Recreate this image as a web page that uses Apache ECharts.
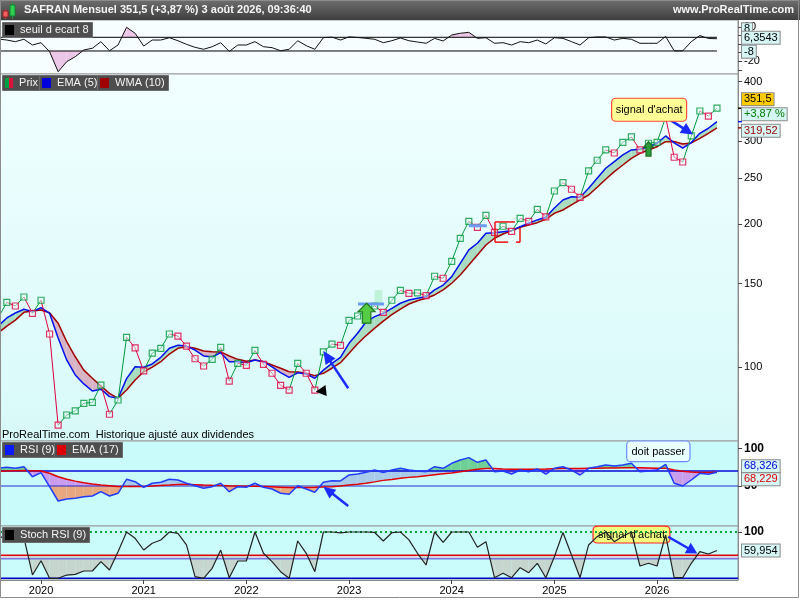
<!DOCTYPE html>
<html>
<head>
<meta charset="utf-8">
<script src="https://cdn.jsdelivr.net/npm/echarts@6.0.0/dist/echarts.min.js"></script>
<style>
html,body{margin:0;padding:0;background:#ffffff;}
#chart{width:800px;height:600px;}
</style>
</head>
<body>
<div id="chart"></div>
<script>
const FONT = '"Liberation Sans", Arial, Helvetica, sans-serif';

// ---- data (monthly, first value = Aug 2019, index -1) ----
const startIndex = -1;
const yearTicks = [4, 16, 28, 40, 52, 64, 76];
const yearLabels = ['2020', '2021', '2022', '2023', '2024', '2025', '2026'];
const priceTicks = [100, 150, 200, 250, 300, 400];
const ecartTicks = [-30, -20, -10, 0, 10, 20];
const ecartLabels = [-20, 20];
const ecartLevels = [8, -8];
const rsiLabels = [50, 100];
const rsiLevels = [70, 50];
const stochLabels = [100];
const stochLevels = [100, 50, 42, 0];

const price = [127.0,
  136.9,134.5,140.5,129.8,138.3,117.4,75.4,79.2,80.8,83.8,
  84.2,91.6,79.5,85.2,115.5,109.7,98.1,107.0,109.5,117.4,
  116.2,110.7,104.1,100.5,103.8,110.0,93.4,101.8,100.8,108.4,
  101.3,97.0,91.5,89.4,101.8,97.0,89.4,107.6,111.8,111.1,
  125.4,128.1,132.0,134.5,130.4,138.3,145.1,143.0,143.4,141.4,
  155.4,153.9,167.1,186.8,202.9,197.1,208.9,192.4,198.1,193.3,
  205.9,202.9,215.1,207.3,235.1,244.8,237.1,228.0,259.2,273.0,
  287.0,282.8,297.9,305.7,287.0,296.5,297.9,336.4,277.0,270.7,
  307.2,346.8,338.4,351.5];

const ema5 = [122.0,
  126.9,130.0,132.4,130.8,133.4,129.8,115.1,103.5,96.2,92.1,
  89.0,89.8,86.6,85.9,94.5,100.1,99.9,101.5,104.8,109.5,
  111.1,110.7,108.6,105.5,105.0,107.2,102.6,102.6,102.1,103.5,
  102.6,100.1,97.3,95.1,97.2,96.7,94.7,98.5,101.8,104.8,
  112.2,117.8,124.6,127.7,129.8,133.0,136.3,138.5,139.6,140.7,
  145.4,148.9,155.1,165.5,176.6,182.4,191.5,192.0,193.0,193.9,
  197.7,201.0,204.3,206.9,216.5,225.1,228.7,228.0,238.2,250.1,
  262.6,271.1,280.1,287.0,288.0,291.6,296.5,307.2,297.0,289.4,
  297.5,311.2,318.9,329.3];

const wma10 = [118.0,
  122.0,125.6,130.4,131.2,131.9,130.2,123.7,113.1,105.1,98.5,
  94.7,91.2,88.0,85.9,89.4,93.9,97.7,99.9,102.6,106.5,
  109.5,110.4,109.5,108.1,107.7,107.6,105.5,103.8,102.8,103.5,
  102.6,101.0,99.4,97.7,97.6,97.0,95.9,97.0,99.4,102.1,
  106.9,112.0,116.5,120.8,125.0,129.0,132.5,135.8,138.0,139.6,
  141.9,145.4,150.2,156.4,164.1,172.3,180.9,186.9,190.8,193.9,
  197.2,199.4,201.6,205.0,211.0,214.4,219.7,225.1,230.6,239.4,
  248.9,258.3,266.8,275.6,282.4,287.0,291.6,298.8,299.0,295.5,
  297.0,303.7,311.2,319.52];

const ecart = [6.0,
  4.8,2.9,5.7,-1.0,1.7,-8.8,-32.2,-20.5,-14.7,-6.8,
  -4.8,2.9,-7.7,-1.0,19.7,12.7,-2.2,4.8,4.8,7.5,
  4.0,-0.2,-3.7,-6.0,-3.0,1.7,-8.5,-1.0,-1.0,2.9,
  -3.0,-4.1,-7.7,-6.0,4.0,-1.8,-6.0,7.6,8.2,4.8,
  8.5,7.8,6.8,5.7,1.7,4.0,7.2,4.0,2.5,1.0,
  6.8,3.7,10.7,12.7,13.8,6.8,7.5,1.0,1.7,-1.0,
  2.9,1.7,4.8,0.2,7.5,6.8,2.9,-1.0,7.5,8.4,
  8.4,4.8,6.8,5.7,1.0,1.0,1.0,9.0,-7.8,-7.8,
  2.9,10.0,6.6,6.3543];

const rsi9 = [73.8,
  74.9,73.6,75.7,62.4,67.8,49.1,30.0,32.7,33.6,35.7,
  36.7,42.4,36.7,40.3,58.9,55.7,48.3,53.6,54.9,58.9,
  58.0,53.6,50.4,46.9,49.1,53.6,42.4,49.1,48.3,53.6,
  48.3,46.0,40.3,38.9,50.4,46.0,41.6,54.9,57.1,56.8,
  64.7,66.0,68.2,71.3,67.8,71.3,73.6,71.3,70.0,69.1,
  75.7,73.6,80.3,84.7,87.8,81.6,84.7,69.1,70.0,66.0,
  71.3,69.1,72.7,66.0,73.6,75.7,71.3,64.7,73.6,75.7,
  78.0,76.7,78.0,80.3,69.1,70.0,71.3,78.9,53.6,50.0,
  58.0,66.9,65.6,68.326];

const rsiEma17 = [69.5,
  70.0,70.5,70.8,70.5,70.0,67.0,62.4,58.9,56.5,54.4,
  52.8,51.3,50.3,49.3,49.5,49.5,49.3,50.0,50.8,51.3,
  52.0,52.2,51.8,51.3,51.0,50.8,50.2,50.0,49.8,49.6,
  49.3,49.0,48.5,48.0,47.9,48.1,48.3,48.8,49.1,50.0,
  51.3,52.4,53.6,55.5,57.5,58.8,60.2,61.5,62.4,63.8,
  65.0,66.2,67.2,69.0,70.8,72.3,73.4,73.2,72.6,72.2,
  72.2,72.2,72.4,72.6,73.0,73.4,73.5,73.4,73.6,73.8,
  74.0,74.1,74.3,74.4,74.2,74.0,73.8,73.7,71.5,69.8,
  68.8,68.1,67.9,68.229];

const stochRsi = [85,
  95,100,88,7.2,38,0,0,7,8.6,15.8,
  15.8,35.9,17.9,57.5,100,86.4,61.1,75.6,82.7,100,
  97,72,3.5,0,21.6,61,1.3,37.4,37.4,100,
  54,35.9,14.3,0,80.6,54,14.3,100,100,98,
  100,100,100,99,80.6,98.5,100,83,54,28.7,
  100,77.8,100,100,100,67,79,1.3,10.8,1.3,
  22.9,12.1,32.4,1.3,46.7,99,50.3,1.3,72,90,
  100,79,91,100,26.6,32.4,26.6,93.5,1.3,1.3,
  32.4,57.5,52.5,59.954];

const signalIndex = 77; // Feb 2026 highlighted point

// ---- layout constants ----
const XMIN = -0.795, XMAX = 85.46;
const GREEN = '#00993a', RED = '#dd0040';

const xs = price.map((_, i) => i + startIndex);
const lp = price.map(v => Math.log10(v));
const le = ema5.map(v => Math.log10(v));
const lw = wma10.map(v => Math.log10(v));
const last = price.length - 1;
const pairs = arr => arr.map((v, i) => [xs[i], v]);
const constArr = v => xs.map(() => v);
const fmt = (v, d) => (d == null ? String(v) : v.toFixed(d)).replace('.', ',');

// ---- band polygons between two series (data space) ----
function clipPoly(poly, lvl, keepAbove) {
  const res = [];
  const inside = p => keepAbove ? p[1] >= lvl : p[1] <= lvl;
  for (let i = 0; i < poly.length; i++) {
    const P = poly[i], Q = poly[(i + 1) % poly.length];
    const pin = inside(P), qin = inside(Q);
    if (pin) res.push(P);
    if (pin !== qin) {
      const t = (lvl - P[1]) / (Q[1] - P[1]);
      res.push([P[0] + t * (Q[0] - P[0]), lvl]);
    }
  }
  return res;
}
function bands(x, a, b, opt) {
  const out = [];
  for (let i = 0; i < x.length - 1; i++) {
    const x0 = x[i], x1 = x[i + 1];
    const d0 = a[i] - b[i], d1 = a[i + 1] - b[i + 1];
    const pieces = [];
    if (d0 * d1 < 0) {
      const t = d0 / (d0 - d1);
      const xc = x0 + t * (x1 - x0), yc = a[i] + t * (a[i + 1] - a[i]);
      pieces.push({ s: d0 > 0, poly: [[x0, a[i]], [xc, yc], [x0, b[i]]] });
      pieces.push({ s: d1 > 0, poly: [[xc, yc], [x1, a[i + 1]], [x1, b[i + 1]]] });
    } else {
      pieces.push({ s: (d0 + d1) > 0, poly: [[x0, a[i]], [x1, a[i + 1]], [x1, b[i + 1]], [x0, b[i]]] });
    }
    pieces.forEach(p => {
      const cfg = p.s ? opt.pos : opt.neg;
      if (!cfg) return;
      const lvl = cfg[0], cA = cfg[1], cB = cfg[2];
      if (lvl == null) { out.push({ pts: p.poly, color: cA }); return; }
      const up = clipPoly(p.poly, lvl, true), dn = clipPoly(p.poly, lvl, false);
      if (cA && up.length > 2) out.push({ pts: up, color: cA });
      if (cB && dn.length > 2) out.push({ pts: dn, color: cB });
    });
  }
  return out;
}
function fillSeries(g, polys, z) {
  return {
    type: 'custom', xAxisIndex: g, yAxisIndex: g, clip: true, silent: true, z: z,
    data: polys.map(p => [p.pts[0][0], p.pts[0][1]]),
    renderItem: (params, api) => {
      const p = polys[params.dataIndex];
      return { type: 'polygon', shape: { points: p.pts.map(q => api.coord(q)) }, style: { fill: p.color } };
    }
  };
}
function levelLine(g, v, x0, x1, style, z, extra) {
  return Object.assign({
    type: 'line', xAxisIndex: g, yAxisIndex: g, data: [[x0, v], [x1, v]],
    symbol: 'none', silent: true, lineStyle: style, z: z
  }, extra || {});
}

const axisLabelBase = { color: '#000', fontSize: 11, fontFamily: FONT };

const xAxes = [0, 1, 2, 3].map(k => ({
  gridIndex: k, type: 'value', min: XMIN, max: XMAX, show: k === 3,
  splitLine: { show: false },
  axisLine: { show: true, onZero: false, lineStyle: { color: '#8c8c8c' } },
  axisTick: { show: true, length: 4, customValues: yearTicks, lineStyle: { color: '#444' } },
  axisLabel: Object.assign({ customValues: yearTicks, margin: 5,
    formatter: v => yearLabels[yearTicks.indexOf(v)] || '' }, axisLabelBase)
}));

function yAxisCfg(g, min, max, ticks, labels, fmtFn, labelExtra) {
  return {
    gridIndex: g, type: 'value', position: 'right', min: min, max: max,
    splitLine: { show: false },
    axisLine: { show: true, onZero: false, lineStyle: { color: '#8c8c8c' } },
    axisTick: { show: true, length: 4, customValues: ticks, lineStyle: { color: '#444' } },
    axisLabel: Object.assign({ customValues: labels, margin: 6, formatter: fmtFn }, axisLabelBase, labelExtra || {})
  };
}

const logTicks = priceTicks.map(v => Math.log10(v));
const yAxes = [
  yAxisCfg(0, -34.87, 28.21, ecartTicks, ecartLabels, v => String(v)),
  yAxisCfg(1, 1.8439, 2.6181, logTicks, logTicks, v => String(Math.round(Math.pow(10, v)))),
  yAxisCfg(2, -3.33, 110, [50, 100], rsiLabels, v => String(v), { fontWeight: 'bold', fontSize: 12 }),
  yAxisCfg(3, -3.67, 112.96, [100], stochLabels, v => String(v), { fontWeight: 'bold', fontSize: 12 })
];

const gridBase = { left: 0, right: 62, show: true, borderColor: '#9a9a9a', borderWidth: 1 };
const grids = [
  Object.assign({ top: 20, height: 54, backgroundColor: '#f6feff' }, gridBase),
  Object.assign({ top: 74, height: 367, backgroundColor: { type: 'linear', x: 0, y: 0, x2: 0, y2: 1,
    colorStops: [{ offset: 0, color: '#f1ffff' }, { offset: 1, color: '#d8f9f9' }] } }, gridBase),
  Object.assign({ top: 441, height: 85, backgroundColor: '#cafbfb' }, gridBase),
  Object.assign({ top: 526, height: 54, backgroundColor: '#cbfcfc' }, gridBase)
];

// ---- legends / titles ----
function legendBox(left, top, text, rich) {
  return {
    left: left, top: top, text: text, z: 10, padding: [2, 4, 2, 3],
    backgroundColor: '#4e4e4e', borderColor: '#6c6c6c', borderWidth: 1,
    textStyle: { color: '#f4f4f4', fontSize: 11, fontFamily: FONT, fontWeight: 'normal', lineHeight: 12, rich: rich }
  };
}
const sq = c => ({ width: 9, height: 10, backgroundColor: c });
const half = c => ({ width: 4, height: 10, backgroundColor: c });
const titles = [
  { left: 24, top: 4, padding: 0, z: 10, text: 'SAFRAN Mensuel ' + fmt(price[last]) + ' (+' + fmt((price[last] / price[last - 1] - 1) * 100, 2) + ' %) 3 août 2026, 09:36:40',
    textStyle: { color: '#f6f6f6', fontSize: 11, fontWeight: 'bold', fontFamily: FONT } },
  { right: 6, top: 4, padding: 0, z: 10, text: 'www.ProRealTime.com',
    textStyle: { color: '#f6f6f6', fontSize: 11, fontWeight: 'bold', fontFamily: FONT } },
  legendBox(2, 22, '{k|}  seuil d ecart 8', { k: sq('#000000') }),
  legendBox(2, 75, '{g|}{r|}  Prix', { g: half('#00a040'), r: half('#e0103c') }),
  legendBox(39, 75, '{k|}  EMA (5)', { k: sq('#0000dd') }),
  legendBox(97, 75, '{k|}  WMA (10)', { k: sq('#a00000') }),
  legendBox(2, 442, '{k|}  RSI (9)', { k: sq('#0a1aff') }),
  legendBox(54, 442, '{k|}  EMA (17)', { k: sq('#dd0000') }),
  legendBox(2, 527, '{k|}  Stoch RSI (9)', { k: sq('#000000') }),
  { left: 2, top: 429, padding: 0, z: 10, text: 'ProRealTime.com  Historique ajusté aux dividendes',
    textStyle: { color: '#000', fontSize: 11, fontWeight: 'normal', fontFamily: FONT } }
];

// ---- series ----
const series = [];
// panel 0 : seuil d'ecart
series.push(fillSeries(0, bands(xs, ecart, constArr(ecartLevels[0]), { pos: [null, '#ecc6e6'] }), 1));
series.push(fillSeries(0, bands(xs, ecart, constArr(ecartLevels[1]), { neg: [null, '#ecc6e6'] }), 1));
ecartLevels.forEach(l => series.push(levelLine(0, l, xs[0], xs[last], { color: '#000', width: 1 }, 2)));
series.push({ type: 'line', xAxisIndex: 0, yAxisIndex: 0, data: pairs(ecart), symbol: 'none',
  lineStyle: { color: '#111', width: 1 }, z: 3, silent: true });

// panel 1 : price
series.push(fillSeries(1, bands(xs, le, lw, { pos: [null, '#a9dcc0'], neg: [null, '#d7b3c4'] }), 1));
series.push({ type: 'line', xAxisIndex: 1, yAxisIndex: 1, data: xs.map((x, i) => [x, lw[i]]), symbol: 'none',
  lineStyle: { color: '#a00000', width: 1.5 }, z: 3, silent: true });
series.push({ type: 'line', xAxisIndex: 1, yAxisIndex: 1, data: xs.map((x, i) => [x, le[i]]), symbol: 'none',
  lineStyle: { color: '#0010ee', width: 1.5 }, z: 4, silent: true });
const segData = [];
for (let i = 1; i < price.length; i++) segData.push([xs[i - 1], lp[i - 1], xs[i], lp[i], price[i] >= price[i - 1] ? 1 : 0]);
series.push({
  type: 'custom', xAxisIndex: 1, yAxisIndex: 1, clip: true, silent: true, z: 5,
  encode: { x: [0, 2], y: [1, 3] }, data: segData,
  renderItem: (params, api) => {
    const a = api.coord([api.value(0), api.value(1)]), b = api.coord([api.value(2), api.value(3)]);
    return { type: 'line', shape: { x1: a[0], y1: a[1], x2: b[0], y2: b[1] },
      style: { stroke: api.value(4) ? GREEN : RED, lineWidth: 1 } };
  }
});
series.push({
  type: 'scatter', xAxisIndex: 1, yAxisIndex: 1, symbol: 'rect', symbolSize: 6, z: 6, silent: true,
  data: price.map((v, i) => i === 0 ? null : {
    value: [xs[i], lp[i]],
    itemStyle: { color: 'rgba(240,255,255,0.6)', borderWidth: 1.2,
      borderColor: xs[i] === signalIndex ? '#8fcc3a' : (v >= price[i - 1] ? GREEN : RED) }
  }).filter(d => d)
});

// panel 2 : RSI
series.push(fillSeries(2, bands(xs, rsi9, rsiEma17, { pos: [70, '#6fd096', '#a9cbea'], neg: [50, '#c99cee', '#e8a77e'] }), 1));
series.push(levelLine(2, rsiLevels[0], XMIN, XMAX, { color: '#0808d8', width: 1.3 }, 2));
series.push(levelLine(2, rsiLevels[1], XMIN, XMAX, { color: '#2a2ad0', width: 1 }, 2));
series.push({ type: 'line', xAxisIndex: 2, yAxisIndex: 2, data: pairs(rsiEma17), symbol: 'none',
  lineStyle: { color: '#e00000', width: 1.5 }, z: 3, silent: true });
series.push({ type: 'line', xAxisIndex: 2, yAxisIndex: 2, data: pairs(rsi9), symbol: 'none',
  lineStyle: { color: '#1f3cff', width: 1.5 }, z: 4, silent: true });

// panel 3 : Stoch RSI
series.push(fillSeries(3, bands(xs, stochRsi, constArr(stochLevels[1]), { neg: [null, '#c6d6cf'] }), 1));
series.push(levelLine(3, stochLevels[2], XMIN, XMAX, { color: '#4646d8', width: 1 }, 2, {
  markArea: { silent: true, itemStyle: { color: 'rgba(236,176,214,0.55)' },
    data: [[{ yAxis: stochLevels[2] }, { yAxis: stochLevels[1] }]] }
}));
series.push(levelLine(3, stochLevels[1], XMIN, XMAX, { color: '#dd0000', width: 1.5 }, 3));
series.push(levelLine(3, stochLevels[3], XMIN, XMAX, { color: '#0000cc', width: 1.5 }, 3));
series.push(levelLine(3, stochLevels[0], XMIN, XMAX, { color: '#00aa33', width: 2, type: [2, 3] }, 3));
series.push({ type: 'line', xAxisIndex: 3, yAxisIndex: 3, data: pairs(stochRsi), symbol: 'none',
  lineStyle: { color: '#222', width: 1.2 }, z: 5, silent: true });

const chart = echarts.init(document.getElementById('chart'), null, { renderer: 'canvas' });
chart.setOption({
  animation: false,
  backgroundColor: '#ffffff',
  textStyle: { fontFamily: FONT },
  title: titles,
  grid: grids,
  xAxis: xAxes,
  yAxis: yAxes,
  series: series
});

// ---- annotations anchored on data coordinates ----
const P = (g, x, v) => chart.convertToPixel({ gridIndex: g }, [x, g === 1 ? Math.log10(v) : v]);
function arrow(p0, p1, color, shaftW, headLen, headW, z) {
  const dx = p1[0] - p0[0], dy = p1[1] - p0[1], L = Math.hypot(dx, dy), ux = dx / L, uy = dy / L;
  const bx = p1[0] - ux * headLen, by = p1[1] - uy * headLen, nx = -uy, ny = ux;
  return [
    { type: 'line', z: z, shape: { x1: p0[0], y1: p0[1], x2: bx + ux * 2, y2: by + uy * 2 }, style: { stroke: color, lineWidth: shaftW } },
    { type: 'polygon', z: z, shape: { points: [[p1[0], p1[1]], [bx + nx * headW / 2, by + ny * headW / 2], [bx - nx * headW / 2, by - ny * headW / 2]] }, style: { fill: color } }
  ];
}
function upArrow(tip, totalH, headH, headW, shaftW, fill, stroke) {
  const x = tip[0], y = tip[1];
  return { type: 'polygon', z: 8, shape: { points: [[x, y], [x + headW / 2, y + headH], [x + shaftW / 2, y + headH], [x + shaftW / 2, y + totalH],
    [x - shaftW / 2, y + totalH], [x - shaftW / 2, y + headH], [x - headW / 2, y + headH]] }, style: { fill: fill, stroke: stroke, lineWidth: 1.2 } };
}
function boxText(p0, p1, text, fill, stroke, z) {
  return [
    { type: 'rect', z: z, shape: { x: p0[0], y: p0[1], width: p1[0] - p0[0], height: p1[1] - p0[1], r: 4 }, style: { fill: fill, stroke: stroke, lineWidth: 1.2 } },
    { type: 'text', z: z, style: { x: (p0[0] + p1[0]) / 2, y: (p0[1] + p1[1]) / 2 + 0.5, text: text, fill: '#000', font: '11px ' + FONT, align: 'center', verticalAlign: 'middle' } }
  ];
}
function tag(g, v, dy, text, bg, color) {
  const y = P(g, 0, v)[1] + dy;
  return { type: 'text', z: 30, style: { x: 742, y: y, text: text, fill: color, font: '11px ' + FONT, align: 'left', verticalAlign: 'middle',
    backgroundColor: bg, borderColor: '#8a8a8a', borderWidth: 1, padding: [1, 2, 0, 2], lineHeight: 11 } };
}
function segLine(p0, p1, color, w, z) {
  return { type: 'line', z: z, shape: { x1: p0[0], y1: p0[1], x2: p1[0], y2: p1[1] }, style: { stroke: color, lineWidth: w } };
}

const g = [];
// header
g.push({ type: 'rect', z: 1, shape: { x: 0, y: 0, width: 800, height: 20 }, style: { fill: { type: 'linear', x: 0, y: 0, x2: 0, y2: 1,
  colorStops: [{ offset: 0, color: '#6e6e6e' }, { offset: 1, color: '#3e3e3e' }] } } });
g.push({ type: 'line', z: 2, shape: { x1: 5.5, y1: 9, x2: 5.5, y2: 19 }, style: { stroke: '#c04040', lineWidth: 1 } });
g.push({ type: 'rect', z: 2, shape: { x: 3, y: 11, width: 5, height: 6 }, style: { fill: '#f06060', stroke: '#a02020', lineWidth: 1 } });
g.push({ type: 'line', z: 2, shape: { x1: 12.5, y1: 2, x2: 12.5, y2: 19 }, style: { stroke: '#20a040', lineWidth: 1 } });
g.push({ type: 'rect', z: 2, shape: { x: 10, y: 5, width: 5, height: 11 }, style: { fill: '#30d050', stroke: '#108030', lineWidth: 1 } });

// main panel annotations
g.push(...arrow(P(1, 39.9, 90.2), P(1, 37.0, 108.1), '#1a2cff', 2.5, 13, 12, 8));
g.push(...arrow(P(1, 37.3, 89.2), P(1, 36.1, 88.7), '#000000', 1, 10.5, 11, 8).slice(1));
const t1 = P(1, 42.05, 136.3), b1 = P(1, 42.05, 123.7);
g.push(upArrow(t1, b1[1] - t1[1], 8.5, 17, 8.5, '#55cc44', '#1f7a1f'));
const t2 = P(1, 75, 298.7), b2 = P(1, 75, 278.6);
g.push(upArrow(t2, b2[1] - t2[1], 5.5, 9.5, 5, '#2e9e3a', '#1b6b22'));
const lg0 = P(1, 43.0, 145.3), lg1 = P(1, 43.9, 136.5);
g.push({ type: 'rect', z: 4, shape: { x: lg0[0], y: lg0[1], width: lg1[0] - lg0[0], height: lg1[1] - lg0[1] }, style: { fill: 'rgba(150,230,175,0.45)' } });
g.push(segLine(P(1, 41.05, 135.8), P(1, 44.1, 135.8), '#6b9cf0', 3, 7));
g.push(segLine(P(1, 54.0, 198.6), P(1, 56.1, 198.6), '#6b9cf0', 3, 7));
const rb = '#ee1010';
g.push(segLine(P(1, 57.06, 202.3), P(1, 59.4, 202.3), rb, 1.5, 7));
g.push(segLine(P(1, 57.06, 202.3), P(1, 57.06, 183.4), rb, 1.5, 7));
g.push(segLine(P(1, 57.06, 183.4), P(1, 58.6, 183.4), rb, 1.5, 7));
g.push(segLine(P(1, 59.98, 196.4), P(1, 59.98, 183.4), rb, 1.5, 7));
g.push(segLine(P(1, 59.5, 183.4), P(1, 59.98, 183.4), rb, 1.5, 7));
const sa = P(1, signalIndex, price[signalIndex + 1]);
g.push(...boxText([sa[0] - 54, sa[1] - 19], [sa[0] + 21, sa[1] + 4], "signal d'achat", '#ffff96', '#ff4a3a', 9));
g.push(...arrow(P(1, 77.2, 335), P(1, 80.2, 309.4), '#1a2cff', 2.5, 12, 12, 8));

// RSI annotations
g.push(...arrow(P(2, 39.9, 23.3), P(2, 37.0, 49.1), '#1a2cff', 2.5, 12, 11, 8));
g.push(...boxText(P(2, 72.45, 110), P(2, 79.85, 82.4), 'doit passer', '#eaffff', '#6a8cff', 9));

// Stoch annotations
g.push(...boxText(P(3, 68.52, 112.9), P(3, 77.5, 76.2), "signal d'achat", '#eeff80', '#ff2020', 1));
g.push(...arrow(P(3, 77.3, 89.8), P(3, 80.7, 53.6), '#1a2cff', 2.5, 11, 12, 8));

// value tags on the right axis
const tagBg = '#d6f5f5';
g.push(tag(0, ecartLevels[0], -8, fmt(ecartLevels[0]), tagBg, '#000'));
g.push(tag(0, ecart[last], -1, fmt(ecart[last]), tagBg, '#000'));
g.push(tag(0, ecartLevels[1], 0.7, fmt(ecartLevels[1]), tagBg, '#000'));
g.push(tag(1, price[last], -9, fmt(price[last]), '#ffcc00', '#000'));
g.push(tag(1, price[last], 6, '+' + fmt((price[last] / price[last - 1] - 1) * 100, 2) + ' %', tagBg, '#008000'));
g.push(tag(1, wma10[last], 3, fmt(wma10[last]), tagBg, '#990000'));
g.push(tag(2, rsi9[last], -6, fmt(rsi9[last]), tagBg, '#0000dd'));
g.push(tag(2, rsiEma17[last], 7, fmt(rsiEma17[last]), tagBg, '#dd0000'));
g.push(tag(3, stochRsi[last], 0, fmt(stochRsi[last]), tagBg, '#000'));
// small value ticks on the axis
[[1, price[last], '#000'], [1, ema5[last], '#0010ee'], [1, wma10[last], '#a00000']].forEach(t => {
  const y = P(t[0], 0, t[1])[1];
  g.push({ type: 'line', z: 25, shape: { x1: 738, y1: y, x2: 742, y2: y }, style: { stroke: t[2], lineWidth: 1.5 } });
});

// frame
g.push({ type: 'rect', z: 40, shape: { x: 0.5, y: 0.5, width: 798, height: 597 }, style: { fill: 'none', stroke: '#8c8c8c', lineWidth: 1 } });

chart.setOption({ graphic: g });
</script>
</body>
</html>
